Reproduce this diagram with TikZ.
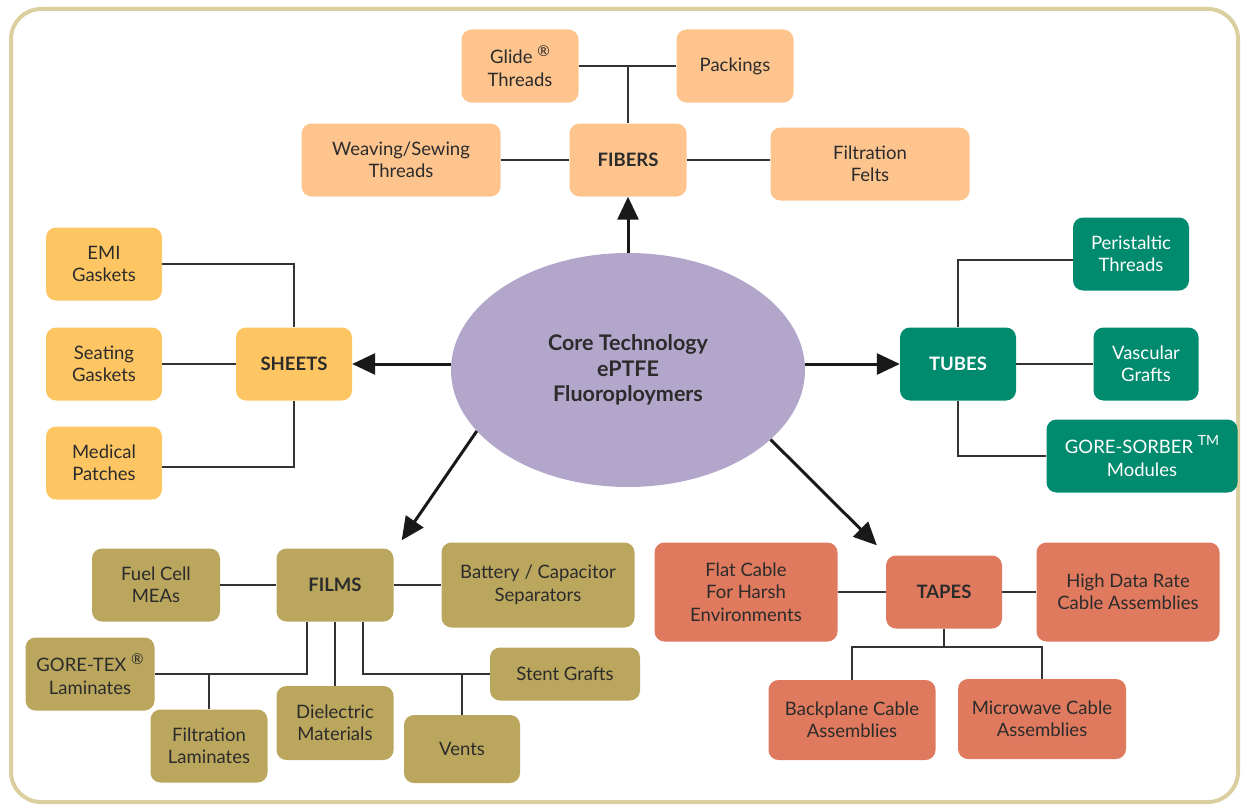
\documentclass[tikz,border=0pt]{standalone}
\usepackage{fontspec}
\setmainfont{Lato}
\usetikzlibrary{shapes.geometric,arrows.meta}
\definecolor{fibc}{HTML}{FDC48E}
\definecolor{shtc}{HTML}{FEC663}
\definecolor{tubc}{HTML}{008A6E}
\definecolor{filc}{HTML}{BBA65E}
\definecolor{tapc}{HTML}{E07A5E}
\definecolor{corec}{HTML}{B3A6CB}
\definecolor{brdc}{HTML}{DCCF9F}
\definecolor{txtc}{HTML}{2B2B2B}
\definecolor{linec}{HTML}{333333}
\newcommand{\regmark}{\raisebox{0.42em}{\fontsize{15}{15}\selectfont ®}}
\newcommand{\tmmark}{\raisebox{0.42em}{\fontsize{14}{14}\selectfont TM}}
\tikzset{
  box/.style={rounded corners=10pt, align=center, inner sep=0pt, text=txtc,
    font=\fontsize{18.5}{22.5}\selectfont},
  ttl/.style={font=\bfseries\fontsize{18.5}{22.5}\selectfont},
  fib/.style={box, fill=fibc},
  sht/.style={box, fill=shtc},
  tub/.style={box, fill=tubc, text=white},
  fil/.style={box, fill=filc},
  tap/.style={box, fill=tapc},
  conn/.style={draw=linec, line width=1.3pt},
  arr/.style={draw=black!90, line width=3pt, -{Triangle[length=23pt,width=21pt]}},
}
\begin{document}
\begin{tikzpicture}[x=1pt,y=-1pt]
\useasboundingbox (0,0) rectangle (1244,808);
\draw[brdc, line width=4pt, rounded corners=30pt] (11,9) rectangle (1238,802);

% core
\node[ellipse, fill=corec, minimum width=354pt, minimum height=234pt, inner sep=0pt,
  align=center, text=txtc, font=\bfseries\fontsize{21.5}{25.5}\selectfont] (core) at (628,370)
  {Core Technology\\ePTFE\\Fluoroploymers};

% fibers
\node[fib, ttl, minimum width=117pt, minimum height=73pt] (fibers) at (628,160) {FIBERS};
\node[fib, minimum width=117pt, minimum height=73pt] (glide) at (520,66) {Glide \regmark\\Threads};
\node[fib, minimum width=117pt, minimum height=73pt] (pack) at (735,66) {Packings};
\node[fib, minimum width=199pt, minimum height=73pt] (weave) at (401,160) {Weaving/Sewing\\Threads};
\node[fib, minimum width=199pt, minimum height=73pt] (felts) at (870,164) {Filtration\\Felts};
\draw[conn] (fibers.north) -- (fibers.north |- glide.east);
\draw[conn] (glide.east) -- (pack.west);
\draw[conn] (weave.east) -- (fibers.west);
\draw[conn] (fibers.east) -- (fibers.east -| felts.west);

% sheets
\node[sht, ttl, minimum width=116pt, minimum height=73pt] (sheets) at (294,364) {SHEETS};
\node[sht, minimum width=116pt, minimum height=73pt] (emi) at (104,264) {EMI\\Gaskets};
\node[sht, minimum width=116pt, minimum height=73pt] (seat) at (104,364) {Seating\\Gaskets};
\node[sht, minimum width=116pt, minimum height=73pt] (med) at (104,463) {Medical\\Patches};
\draw[conn] (emi.east) -| (sheets.north);
\draw[conn] (seat.east) -- (sheets.west);
\draw[conn] ([yshift=-4pt]med.east) -| (sheets.south);

% tubes
\node[tub, ttl, minimum width=116pt, minimum height=73pt] (tubes) at (958,364) {TUBES};
\node[tub, minimum width=116pt, minimum height=73pt] (peri) at (1131,254) {Peristaltic\\Threads};
\node[tub, minimum width=105pt, minimum height=73pt] (vasc) at (1146,364) {Vascular\\Grafts};
\node[tub, minimum width=191pt, minimum height=73pt] (sorber) at (1142,456) {GORE-SORBER \tmmark\\Modules};
\draw[conn] (tubes.north) |- ([yshift=-6pt]peri.west);
\draw[conn] (tubes.east) -- (vasc.west);
\draw[conn] (tubes.south) |- (sorber.west);

% films
\node[fil, ttl, minimum width=117pt, minimum height=73pt] (films) at (335,585) {FILMS};
\node[fil, minimum width=128pt, minimum height=73pt] (fuel) at (156,585) {Fuel Cell\\MEAs};
\node[fil, minimum width=193pt, minimum height=85pt] (batt) at (538,585) {Battery / Capacitor\\Separators};
\node[fil, minimum width=129pt, minimum height=73pt] (gtex) at (90,674) {GORE-TEX \regmark\\Laminates};
\node[fil, minimum width=117pt, minimum height=73pt] (flam) at (209,746) {Filtration\\Laminates};
\node[fil, minimum width=117pt, minimum height=74pt] (diel) at (335,723) {Dielectric\\Materials};
\node[fil, minimum width=150pt, minimum height=53pt] (stent) at (565,674) {Stent Grafts};
\node[fil, minimum width=116pt, minimum height=68pt] (vents) at (462,749) {Vents};
\draw[conn] (fuel.east) -- (films.west);
\draw[conn] (films.east) -- (batt.west);
\draw[conn] ([xshift=-28pt]films.south) |- (gtex.east);
\draw[conn] (flam.north) -- (flam.north |- gtex.east);
\draw[conn] (films.south) -- (diel.north);
\draw[conn] ([xshift=28pt]films.south) |- (stent.west);
\draw[conn] (vents.north) -- (vents.north |- stent.west);

% tapes
\node[tap, ttl, minimum width=116pt, minimum height=73pt] (tapes) at (944,592) {TAPES};
\node[tap, minimum width=183pt, minimum height=99pt] (flat) at (746,592) {Flat Cable\\For Harsh\\Environments};
\node[tap, minimum width=183pt, minimum height=99pt] (high) at (1128,592) {High Data Rate\\Cable Assemblies};
\node[tap, minimum width=167pt, minimum height=80pt] (back) at (852,720) {Backplane Cable\\Assemblies};
\node[tap, minimum width=168pt, minimum height=80pt] (micro) at (1042,719) {Microwave Cable\\Assemblies};
\coordinate (tj) at (944,647);
\draw[conn] (flat.east) -- (tapes.west);
\draw[conn] (tapes.east) -- (high.west);
\draw[conn] (tapes.south) -- (tj);
\draw[conn] (back.north) -- (back.north |- tj) -- (micro.north |- tj) -- (micro.north);

% arrows
\draw[arr] (core.north) -- (fibers.south);
\draw[arr] (core.west |- sheets.east) -- (sheets.east);
\draw[arr] (core.east |- tubes.west) -- (tubes.west);
\draw[arr] (core.202.5) -- ([shift={(8pt,8pt)}]films.north east);
\draw[arr] (core.334) -- ([shift={(-9pt,10pt)}]tapes.north west);
\end{tikzpicture}
\end{document}
